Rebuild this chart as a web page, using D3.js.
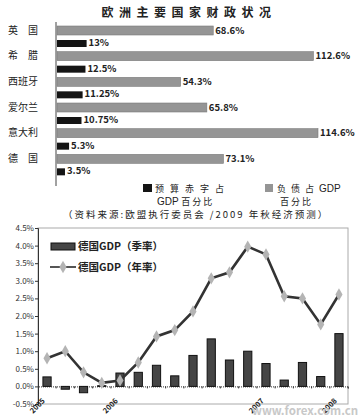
<!DOCTYPE html>
<html><head><meta charset="utf-8">
<script src="https://cdn.jsdelivr.net/npm/d3@7"></script>
<style>
html,body{margin:0;padding:0;background:#fff;}
svg{display:block;}
text{font-family:"Noto Sans CJK SC","Noto Sans",sans-serif;}
</style></head>
<body>
<svg id="c" width="360" height="418"></svg>
<script>
// ---- Top chart data ----
const countries = ["英　国","希　腊","西班牙","爱尔兰","意大利","德　国"];
const debtValues = [68.6, 112.6, 54.3, 65.8, 114.6, 73.1];
const debtLabels = ["68.6%","112.6%","54.3%","65.8%","114.6%","73.1%"];
const deficitValues = [13, 12.5, 11.25, 10.75, 5.3, 3.5];
const deficitLabels = ["13%","12.5%","11.25%","10.75%","5.3%","3.5%"];

// ---- Bottom chart data ----
const quarters = ["2005Q1","2005Q2","2005Q3","2005Q4","2006Q1","2006Q2","2006Q3","2006Q4","2007Q1","2007Q2","2007Q3","2007Q4","2008Q1","2008Q2","2008Q3","2008Q4","2009Q1"];
const xTickLabels = ["2005","","","","2006","","","","","","","","2007","","","","2008"];
const gdpQoQ = [0.27, -0.08, -0.18, 0.02, 0.38, 0.40, 0.60, 0.30, 0.88, 1.35, 0.75, 1.00, 0.65, 0.18, 0.68, 0.28, 1.50];
const gdpYoY = [0.80, 1.00, 0.40, 0.10, 0.17, 0.68, 1.42, 1.60, 2.13, 3.07, 3.24, 3.97, 3.75, 2.56, 2.50, 1.76, 2.61];
const yTicks = [-0.5,0,0.5,1,1.5,2,2.5,3,3.5,4,4.5];

const svg = d3.select("#c");

// ===== Top chart =====
svg.append("text").attr("x",189).attr("y",17).attr("text-anchor","middle")
  .attr("font-size",12).attr("font-weight","bold").attr("fill","#222")
  .attr("letter-spacing",5.5).text("欧洲主要国家财政状况");

const xTop = d3.scaleLinear().domain([0,114.6]).range([57,318]);
const yTop = d3.scaleBand().domain(countries).range([22,176]);

svg.append("line").attr("x1",56).attr("x2",56).attr("y1",22).attr("y2",186)
  .attr("stroke","#444").attr("stroke-width",1);

const rows = svg.append("g").selectAll("g").data(countries).join("g");
rows.append("text").attr("x",8).attr("y",(d)=>yTop(d)+9)
  .attr("dominant-baseline","middle").attr("font-size",10).attr("fill","#222").text(d=>d);
rows.append("rect").attr("x",xTop(0)).attr("y",d=>yTop(d)+4).attr("height",9)
  .attr("width",(d,i)=>xTop(debtValues[i])-xTop(0)).attr("fill","#959595").attr("stroke","#7a7a7a").attr("stroke-width",0.6);
rows.append("text").attr("x",(d,i)=>xTop(debtValues[i])+2).attr("y",d=>yTop(d)+9)
  .attr("dominant-baseline","middle").attr("font-size",9.5).attr("font-weight","bold")
  .attr("font-family","Liberation Sans, Arial, sans-serif").attr("fill","#222").text((d,i)=>debtLabels[i]);
rows.append("rect").attr("x",xTop(0)).attr("y",d=>yTop(d)+18).attr("height",7)
  .attr("width",(d,i)=>xTop(deficitValues[i])-xTop(0)).attr("fill","#141414");
rows.append("text").attr("x",(d,i)=>xTop(deficitValues[i])+2).attr("y",d=>yTop(d)+21.5)
  .attr("dominant-baseline","middle").attr("font-size",9.5).attr("font-weight","bold")
  .attr("font-family","Liberation Sans, Arial, sans-serif").attr("fill","#222").text((d,i)=>deficitLabels[i]);

// Legend top
svg.append("rect").attr("x",143).attr("y",184).attr("width",9).attr("height",8).attr("fill","#141414");
svg.append("text").attr("x",155).attr("y",192).attr("font-size",9).attr("letter-spacing",6).attr("fill","#222").text("预算赤字占");
const l2 = svg.append("text").attr("x",157).attr("y",205).attr("font-size",9).attr("fill","#222");
l2.append("tspan").attr("font-family","Liberation Sans, Arial, sans-serif").attr("font-size",10).text("GDP ");
l2.append("tspan").attr("letter-spacing",2).text("百分比");
svg.append("rect").attr("x",265).attr("y",184).attr("width",8).attr("height",8).attr("fill","#959595");
const l3 = svg.append("text").attr("x",277).attr("y",192).attr("font-size",9).attr("fill","#222");
l3.append("tspan").attr("letter-spacing",5).text("负债占");
l3.append("tspan").attr("font-family","Liberation Sans, Arial, sans-serif").attr("font-size",10).text("GDP");
svg.append("text").attr("x",280).attr("y",205).attr("font-size",9).attr("letter-spacing",2).attr("fill","#222").text("百分比");
svg.append("text").attr("x",63).attr("y",218).attr("font-size",9.5).attr("letter-spacing",2).attr("fill","#222")
  .text("（资料来源:欧盟执行委员会 /2009 年秋经济预测）");

// ===== Bottom chart =====
const xB = d3.scaleBand().domain(quarters).range([38,348]).paddingInner(0.55).paddingOuter(0.27);
const yB = d3.scaleLinear().domain([-0.5,4.5]).range([404,228]);

// plot frame
svg.append("rect").attr("x",38).attr("y",228).attr("width",310).attr("height",176)
  .attr("fill","none").attr("stroke","#aaa").attr("stroke-width",1);

// y axis
const yAxis = d3.axisLeft(yB).tickValues(yTicks).tickSize(3).tickFormat(d=>d.toFixed(1)+"%");
const gy = svg.append("g").attr("transform","translate(38,0)").call(yAxis);
gy.select(".domain").attr("stroke","#333");
gy.selectAll(".tick line").attr("stroke","#333");
gy.selectAll(".tick text").attr("font-size",8).attr("fill","#333").attr("font-family","Liberation Sans, Arial, sans-serif").attr("x",-4);

// zero line with category ticks
const xAxis = d3.axisBottom(xB).tickSize(2).tickFormat("");
const gx0 = svg.append("g").attr("transform",`translate(0,${yB(0)})`).call(xAxis);
gx0.select(".domain").attr("stroke","#333").attr("stroke-dasharray","1,1");
gx0.selectAll(".tick line").attr("stroke","#333").attr("transform",`translate(${xB.step()/2},0)`);

// bars
svg.append("g").selectAll("rect").data(quarters).join("rect")
  .attr("x",d=>xB(d)).attr("width",xB.bandwidth())
  .attr("y",(d,i)=>yB(Math.max(0,gdpQoQ[i])))
  .attr("height",(d,i)=>Math.abs(yB(gdpQoQ[i])-yB(0)))
  .attr("fill","#454545").attr("stroke","#111").attr("stroke-width",1);

// line
const line = d3.line().x((d,i)=>xB(quarters[i])+xB.bandwidth()/2).y(d=>yB(d));
svg.append("path").datum(gdpYoY).attr("d",line).attr("fill","none")
  .attr("stroke","#333").attr("stroke-width",2.6);
const diamond = d3.symbol().type(d3.symbolDiamond).size(44);
svg.append("g").selectAll("path").data(gdpYoY).join("path")
  .attr("d",diamond).attr("transform",(d,i)=>`translate(${xB(quarters[i])+xB.bandwidth()/2},${yB(d)})`)
  .attr("fill","#b4b4b4");

// x labels
svg.append("g").selectAll("text").data(quarters).join("text")
  .attr("transform",d=>`translate(${xB(d)+xB.bandwidth()/2-3},${400}) rotate(-45)`)
  .attr("text-anchor","end").attr("dominant-baseline","middle")
  .attr("font-size",7.5).attr("font-weight","bold").attr("fill","#222")
  .attr("font-family","Liberation Sans, Arial, sans-serif")
  .text((d,i)=>xTickLabels[i]);

// legend bottom
svg.append("rect").attr("x",51).attr("y",243).attr("width",24).attr("height",7)
  .attr("fill","#454545").attr("stroke","#111").attr("stroke-width",1);
svg.append("text").attr("x",78).attr("y",250).attr("font-size",10.5).attr("font-weight","bold").attr("fill","#222").text("德国GDP（季率）");
svg.append("line").attr("x1",50).attr("x2",76).attr("y1",267).attr("y2",267).attr("stroke","#555").attr("stroke-width",2);
svg.append("path").attr("d",diamond).attr("transform","translate(63,267)").attr("fill","#b4b4b4");
svg.append("text").attr("x",78).attr("y",271).attr("font-size",10.5).attr("font-weight","bold").attr("fill","#222").text("德国GDP（年率）");

// watermark
svg.append("text").attr("x",252).attr("y",415).attr("font-size",11.5).attr("font-weight","bold")
  .attr("font-family","Liberation Sans, Arial, sans-serif").attr("fill","#c8c8c8").text("www.forex.com.cn");
</script>
</body></html>
